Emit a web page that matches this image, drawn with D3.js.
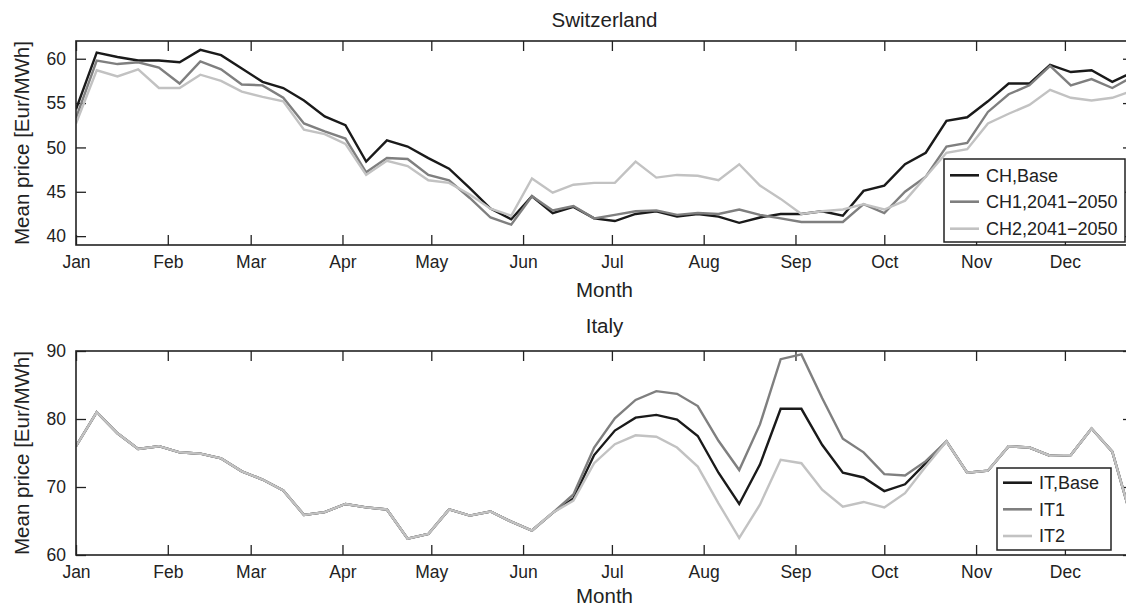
<!DOCTYPE html>
<html>
<head>
<meta charset="utf-8">
<script src="https://cdn.jsdelivr.net/npm/d3@7"></script>
<style>
  html, body { margin: 0; padding: 0; background: #fff; }
  svg { display: block; }
  text { font-family: "Liberation Sans", Arial, Helvetica, sans-serif; fill: #222; }
</style>
</head>
<body>
<svg id="chart" width="1126" height="608"></svg>
<script>
// ---- Data (weekly mean prices) ----
const weeks = d3.range(1, 53);
const monthLabels = ["Jan","Feb","Mar","Apr","May","Jun","Jul","Aug","Sep","Oct","Nov","Dec"];
const monthStartDays = [0,31,59,90,120,151,181,212,243,273,304,334];

const chBase = [54.3,60.7,60.2,59.8,59.8,59.6,61.0,60.4,58.9,57.4,56.7,55.3,53.5,52.5,48.4,50.8,50.1,48.8,47.6,45.4,43.1,41.9,44.5,42.6,43.3,42.0,41.7,42.5,42.8,42.2,42.5,42.2,41.5,42.1,42.5,42.5,42.8,42.3,45.1,45.7,48.1,49.4,53.0,53.4,55.2,57.2,57.2,59.3,58.5,58.7,57.4,58.5];
const ch1 = [53.3,59.8,59.4,59.6,59.0,57.2,59.7,58.8,57.1,57.0,55.6,52.7,51.8,51.0,47.2,48.8,48.7,46.9,46.3,44.3,42.1,41.3,44.5,42.9,43.4,42.0,42.4,42.8,42.9,42.4,42.6,42.5,43.0,42.4,42.0,41.6,41.6,41.6,43.6,42.6,45.0,46.7,50.1,50.5,54.0,56.0,57.0,59.2,57.0,57.7,56.7,58.0];
const ch2 = [52.7,58.7,58.0,58.8,56.7,56.7,58.2,57.5,56.3,55.7,55.2,52.0,51.5,50.4,46.9,48.5,47.9,46.3,46.0,44.7,43.1,42.3,46.5,44.9,45.8,46.0,46.0,48.4,46.6,46.9,46.8,46.3,48.1,45.7,44.2,42.5,42.8,43.0,43.6,43.0,44.0,46.7,49.4,49.8,52.7,53.8,54.8,56.5,55.6,55.3,55.6,56.4];

const itBase = [76.0,81.0,77.9,75.6,76.0,75.1,74.9,74.2,72.3,71.1,69.5,65.9,66.3,67.5,67.0,66.7,62.4,63.1,66.7,65.8,66.4,64.9,63.6,66.2,
                68.3,74.7,78.3,80.2,80.6,79.9,77.5,72.1,67.5,73.3,81.5,81.5,76.2,72.1,71.4,69.4,70.4,73.5,
                76.7,72.1,72.4,76.0,75.8,74.6,74.7,78.6,75.2,64.6];
const it1 = [76.0,81.0,77.9,75.6,76.0,75.1,74.9,74.2,72.3,71.1,69.5,65.9,66.3,67.5,67.0,66.7,62.4,63.1,66.7,65.8,66.4,64.9,63.6,66.2,
             68.9,75.8,80.1,82.8,84.1,83.7,81.9,76.8,72.5,79.2,88.8,89.5,83.1,77.1,75.1,71.9,71.7,73.8,
             76.7,72.1,72.4,76.0,75.8,74.6,74.7,78.6,75.2,64.6];
const it2 = [76.0,81.0,77.9,75.6,76.0,75.1,74.9,74.2,72.3,71.1,69.5,65.9,66.3,67.5,67.0,66.7,62.4,63.1,66.7,65.8,66.4,64.9,63.6,66.2,
             68.0,73.5,76.3,77.6,77.4,75.8,73.0,67.6,62.5,67.4,74.0,73.5,69.6,67.1,67.8,67.0,69.1,73.0,
             76.7,72.1,72.4,76.0,75.8,74.6,74.7,78.6,75.2,64.6];

const chTicks = [40,45,50,55,60];
const itTicks = [60,70,80,90];

const seriesColors = ["#1a1a1a", "#7f7f7f", "#c2c2c2"];

const panels = [
  { title: "Switzerland", top: 41, bottom: 245, domain: [39, 62], ticks: chTicks,
    titleY: 27, labelY: 297,
    series: [chBase, ch1, ch2], names: ["CH,Base", "CH1,2041\u22122050", "CH2,2041\u22122050"],
    legend: { x0: 944, x1: 1125, y0: 159, y1: 242, rows: [175.3, 201.7, 228.7], lx0: 950, lx1: 979, tx: 986 } },
  { title: "Italy", top: 351, bottom: 555, domain: [60, 90], ticks: itTicks,
    titleY: 333, labelY: 603,
    series: [itBase, it1, it2], names: ["IT,Base", "IT1", "IT2"],
    legend: { x0: 997, x1: 1111, y0: 468, y1: 550, rows: [482.7, 509.3, 536], lx0: 1003, lx1: 1032, tx: 1039 } }
];

const svg = d3.select("#chart");
const left = 76, right = 1133;
const x = d3.scaleLinear().domain([1, 52]).range([left, right]);
const monthWeekPos = monthStartDays.map(d => 1 + d / 7);

panels.forEach((p, pi) => {
  const y = d3.scaleLinear().domain(p.domain).range([p.bottom, p.top]);
  const g = svg.append("g");
  const clipId = "clip" + pi;
  svg.append("clipPath").attr("id", clipId).append("rect")
    .attr("x", left).attr("y", p.top).attr("width", right - left).attr("height", p.bottom - p.top);

  // axes (ticks inward)
  const bottomAxis = d3.axisBottom(x).tickValues(monthWeekPos).tickSize(-10).tickPadding(20)
    .tickFormat((d, i) => monthLabels[i]);
  const gb = g.append("g").attr("transform", `translate(0,${p.bottom})`).call(bottomAxis);
  const topAxis = d3.axisTop(x).tickValues(monthWeekPos).tickSize(-10).tickFormat("");
  const gt = g.append("g").attr("transform", `translate(0,${p.top})`).call(topAxis);
  const leftAxis = d3.axisLeft(y).tickValues(p.ticks).tickSize(-10).tickPadding(20);
  const gl = g.append("g").attr("transform", `translate(${left},0)`).call(leftAxis);
  const rightAxis = d3.axisRight(y).tickValues(p.ticks).tickSize(-10).tickFormat("");
  const gr = g.append("g").attr("transform", `translate(${right},0)`).call(rightAxis);
  [gb, gt, gl, gr].forEach(a => {
    a.select(".domain").remove();
    a.selectAll(".tick line").attr("stroke", "#222").attr("stroke-width", 1.3);
    a.selectAll(".tick text").style("font-size", "17.5px").attr("fill", "#222")
      .style("font-family", '"Liberation Sans", Arial, sans-serif');
  });
  gb.selectAll(".tick text").attr("dy", "0.35em").attr("y", 17);
  gl.selectAll(".tick text").attr("x", -10);

  // data lines (plotted in order: base, scenario 1, scenario 2 on top)
  const line = d3.line().x((d, i) => x(weeks[i])).y(d => y(d));
  const lg = g.append("g").attr("clip-path", `url(#${clipId})`);
  [0, 1, 2].forEach(si => {
    lg.append("path").datum(p.series[si])
      .attr("d", line).attr("fill", "none")
      .attr("stroke", seriesColors[si]).attr("stroke-width", 2.4)
      .attr("stroke-linejoin", "miter");
  });

  // box
  g.append("rect").attr("x", left).attr("y", p.top).attr("width", right - left).attr("height", p.bottom - p.top)
    .attr("fill", "none").attr("stroke", "#222").attr("stroke-width", 1.6);

  // title
  g.append("text").attr("x", (left + right) / 2).attr("y", p.titleY)
    .attr("text-anchor", "middle").style("font-size", "20.5px").text(p.title);
  // x label
  g.append("text").attr("x", (left + right) / 2).attr("y", p.labelY)
    .attr("text-anchor", "middle").style("font-size", "20.5px").text("Month");
  // y label
  g.append("text").attr("transform", `translate(29,${(p.top + p.bottom) / 2}) rotate(-90)`)
    .attr("text-anchor", "middle").style("font-size", "20.5px").text("Mean price [Eur/MWh]");

  // legend
  const L = p.legend;
  g.append("rect").attr("x", L.x0).attr("y", L.y0).attr("width", L.x1 - L.x0).attr("height", L.y1 - L.y0)
    .attr("fill", "#fff").attr("stroke", "#222").attr("stroke-width", 1.5);
  p.names.forEach((n, i) => {
    g.append("line").attr("x1", L.lx0).attr("x2", L.lx1).attr("y1", L.rows[i]).attr("y2", L.rows[i])
      .attr("stroke", seriesColors[i]).attr("stroke-width", 2.6);
    g.append("text").attr("x", L.tx).attr("y", L.rows[i]).attr("dy", "0.36em")
      .style("font-size", "18px").text(n);
  });
});
</script>
</body>
</html>
